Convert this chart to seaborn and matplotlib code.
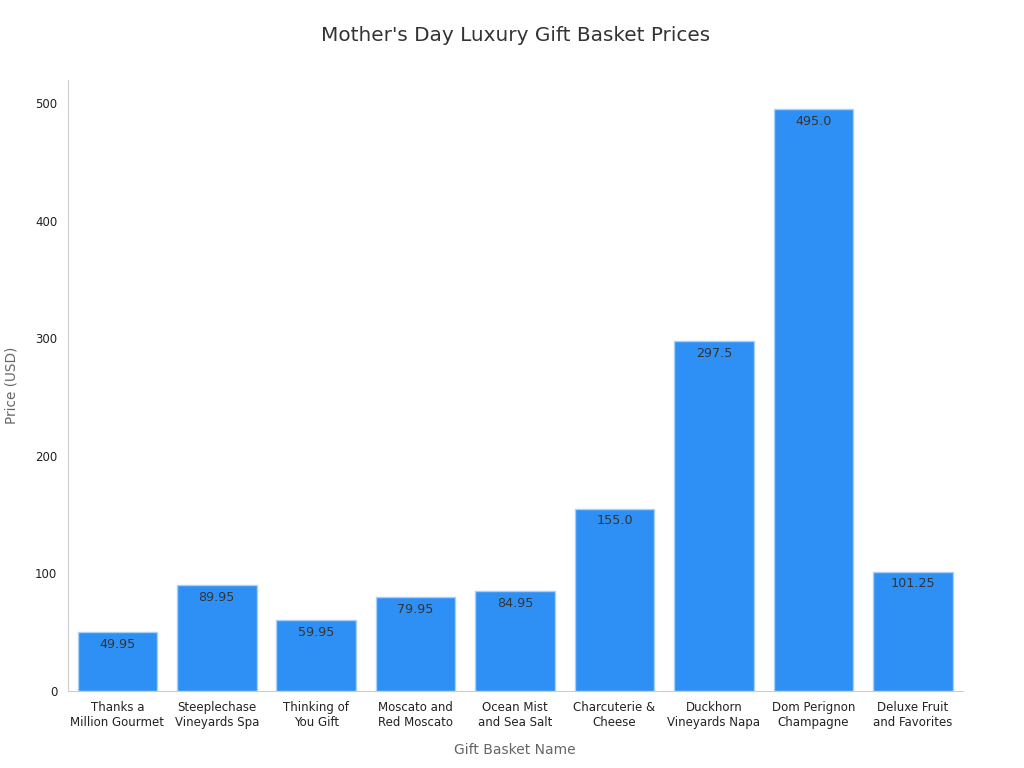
import pandas as pd
import seaborn as sns
import matplotlib.pyplot as plt

# Data
baskets = [
    "Thanks a\nMillion Gourmet",
    "Steeplechase\nVineyards Spa",
    "Thinking of\nYou Gift",
    "Moscato and\nRed Moscato",
    "Ocean Mist\nand Sea Salt",
    "Charcuterie &\nCheese",
    "Duckhorn\nVineyards Napa",
    "Dom Perignon\nChampagne",
    "Deluxe Fruit\nand Favorites",
]
prices = [49.95, 89.95, 59.95, 79.95, 84.95, 155.0, 297.5, 495.0, 101.25]

df = pd.DataFrame({"basket": baskets, "price": prices})

sns.set_style("white")
plt.rcParams["font.family"] = ["DejaVu Sans"]

fig = plt.figure(figsize=(10.24, 7.68), dpi=100)
ax = fig.add_axes([0.066, 0.1003, 0.874, 0.7957])

sns.barplot(data=df, x="basket", y="price", color="#2E90F5", saturation=1,
            edgecolor="#A9D1F7", linewidth=1, width=0.8, ax=ax)

# Value labels inside the top of each bar
for bar, p in zip(ax.patches, prices):
    ax.annotate(str(p), (bar.get_x() + bar.get_width() / 2, bar.get_height()),
                xytext=(0, -4), textcoords="offset points",
                ha="center", va="top", fontsize=9.2, color="#333333")

ax.set_ylim(0, max(prices) * 1.05)
ax.set_xlim(-0.5, len(baskets) - 0.5)
ax.set_yticks([0, 100, 200, 300, 400, 500])

ax.set_title("Mother's Day Luxury Gift Basket Prices", fontsize=14.4, color="#333333", pad=28)
ax.set_xlabel("Gift Basket Name", fontsize=10, color="#666666", labelpad=10)
ax.set_ylabel("Price (USD)", fontsize=9.8, color="#666666", labelpad=12)

ax.tick_params(axis="both", labelsize=8.5, colors="#222222", length=4, color="#555555")
for side in ["top", "right"]:
    ax.spines[side].set_visible(False)
for side in ["left", "bottom"]:
    ax.spines[side].set_color("#CCCCCC")

plt.savefig("out.png", dpi=100)
